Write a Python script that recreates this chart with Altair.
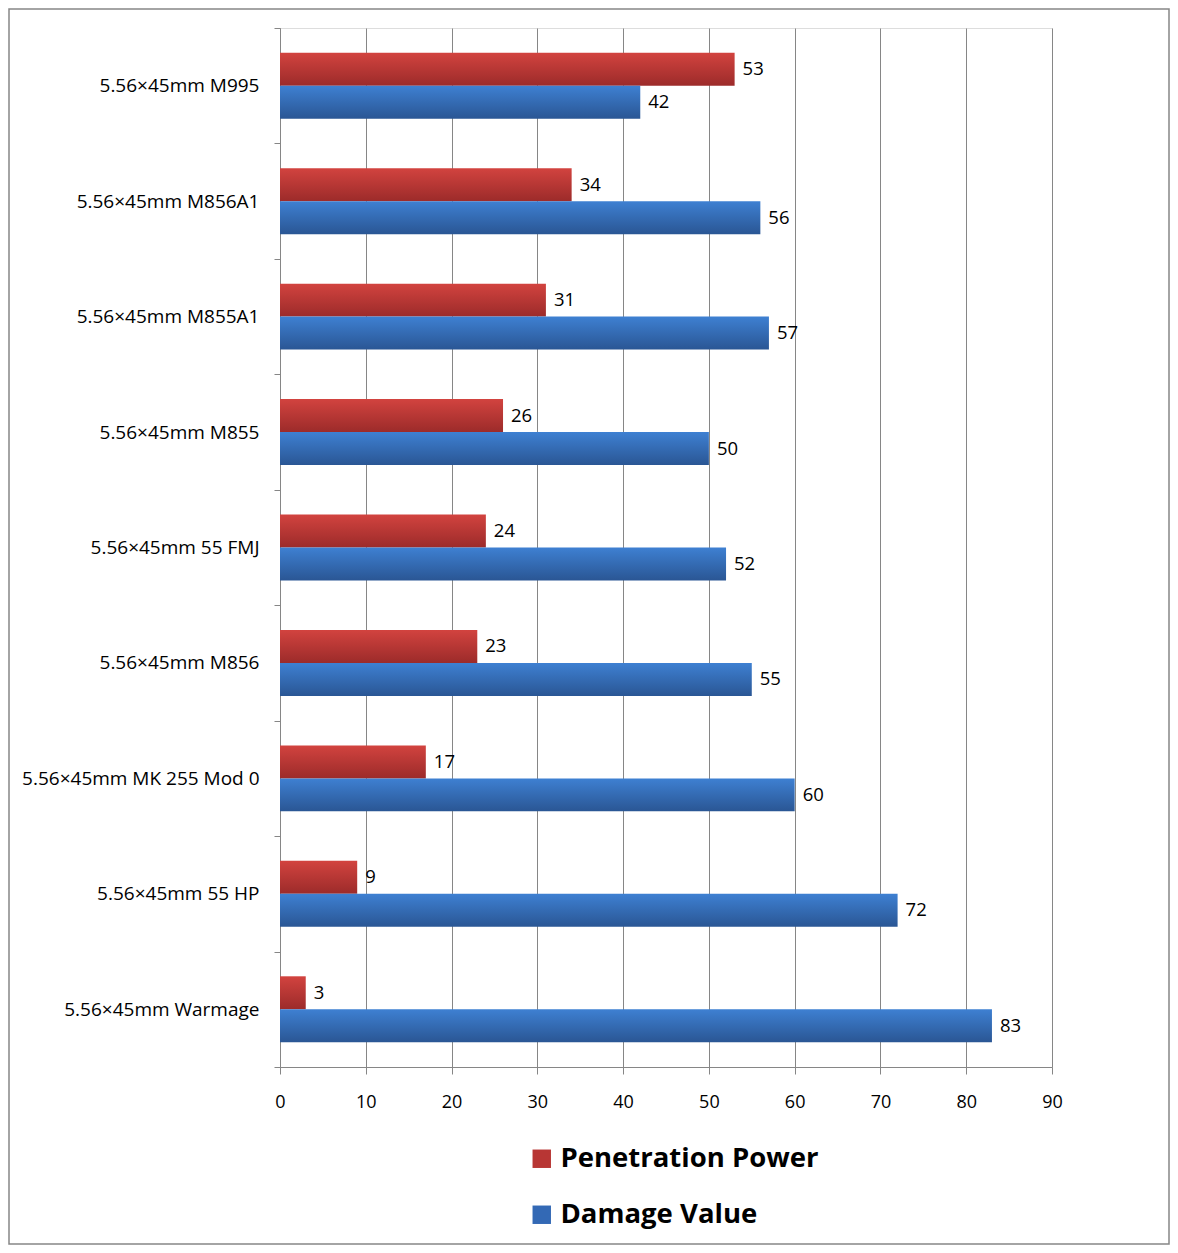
import altair as alt
import pandas as pd

categories = [
    "5.56×45mm M995",
    "5.56×45mm M856A1",
    "5.56×45mm M855A1",
    "5.56×45mm M855",
    "5.56×45mm 55 FMJ",
    "5.56×45mm M856",
    "5.56×45mm MK 255 Mod 0",
    "5.56×45mm 55 HP",
    "5.56×45mm Warmage",
]
series = ["Penetration Power", "Damage Value"]
penetration = [53, 34, 31, 26, 24, 23, 17, 9, 3]
damage = [42, 56, 57, 50, 52, 55, 60, 72, 83]
x_ticks = [0, 10, 20, 30, 40, 50, 60, 70, 80, 90]

rows = []
for c, p, d in zip(categories, penetration, damage):
    rows.append({"cat": c, "series": series[0], "value": p})
    rows.append({"cat": c, "series": series[1], "value": d})
df = pd.DataFrame(rows)

FONT = "Open Sans"
GRAY = "#868686"

red_grad = alt.LinearGradient(
    gradient="linear", x1=0, y1=0, x2=0, y2=1,
    stops=[alt.GradientStop(color="#D2433F", offset=0),
           alt.GradientStop(color="#9C2B2A", offset=1)])
blue_grad = alt.LinearGradient(
    gradient="linear", x1=0, y1=0, x2=0, y2=1,
    stops=[alt.GradientStop(color="#3E80D2", offset=0),
           alt.GradientStop(color="#2A5694", offset=1)])

y_enc = alt.Y(
    "cat:N", sort=categories, title=None,
    scale=alt.Scale(paddingInner=0, paddingOuter=0),
    axis=alt.Axis(
        tickBand="extent", tickSize=6, tickColor=GRAY, domainColor=GRAY,
        labelFont=FONT, labelFontSize=19, labelColor="black",
        labelPadding=15, grid=False, labelLimit=400),
)
yoff_enc = alt.YOffset("series:N", sort=series,
                       scale=alt.Scale(domain=series, paddingInner=0, paddingOuter=0.75))
x_enc = alt.X(
    "value:Q", title=None,
    scale=alt.Scale(domain=[0, 90], nice=False),
    axis=alt.Axis(
        values=x_ticks, tickSize=7, tickColor=GRAY, domainColor=GRAY,
        grid=True, gridColor=GRAY, gridOpacity=1,
        labelFont=FONT, labelFontSize=18, labelColor="black",
        labelPadding=19, labelFlush=False),
)

base = alt.Chart(df).encode(x=x_enc, y=y_enc, yOffset=yoff_enc)

bars_red = base.transform_filter(alt.datum.series == series[0]).mark_bar(
    fill=red_grad, cornerRadius=0)
bars_blue = base.transform_filter(alt.datum.series == series[1]).mark_bar(
    fill=blue_grad, cornerRadius=0)
labels = base.mark_text(align="left", dx=8, font=FONT, fontSize=18.5,
                        color="black").encode(text="value:Q")

legend_layer = alt.Chart(df).transform_filter("false").mark_square(
    filled=True, opacity=1).encode(
    color=alt.Color(
        "series:N",
        scale=alt.Scale(domain=series, range=["#B83634", "#3369B5"]),
        legend=alt.Legend(
            title=None, orient="none", legendX=248, legendY=1117,
            symbolType="square", symbolSize=340, symbolStrokeWidth=0,
            labelFont=FONT, labelFontSize=27.5, labelFontWeight="bold",
            labelColor="black", labelOffset=5, rowPadding=27, padding=0,
            labelLimit=500),
    )
)

# outer frame around the whole chart
frame = alt.Chart(pd.DataFrame({"f": [0]})).mark_rect(
    filled=False, stroke=GRAY, strokeWidth=1.5).encode(
    x=alt.value(-271), x2=alt.value(889), y=alt.value(-19), y2=alt.value(1216))

chart = alt.layer(frame, bars_red, bars_blue, labels, legend_layer).properties(
    width=772, height=1039,
    autosize=alt.AutoSizeParams(type="none"),
    padding={"left": 272, "top": 20, "right": 118, "bottom": 178},
).configure_view(strokeWidth=0).configure(background="white")

chart.save("out.html", embed_options={"renderer": "svg", "actions": False})
